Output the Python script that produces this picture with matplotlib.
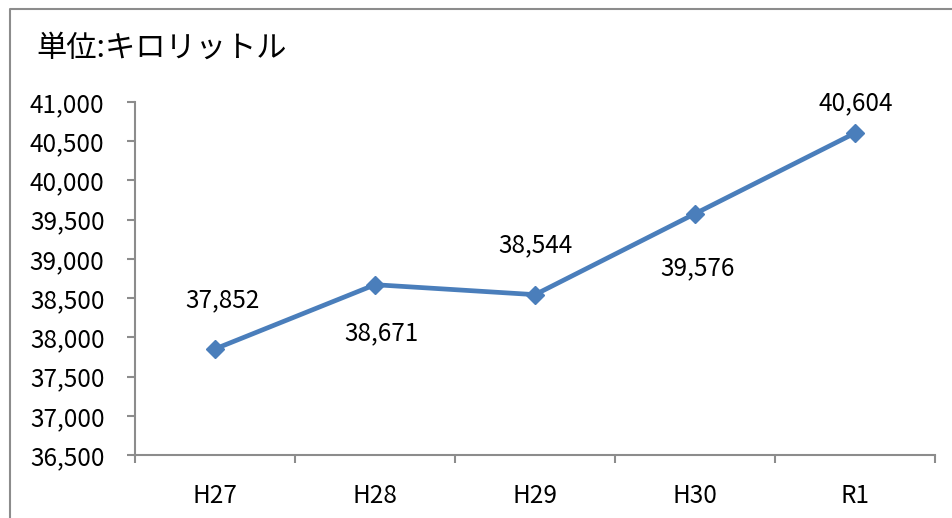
import matplotlib
matplotlib.use("Agg")
import matplotlib.pyplot as plt
from matplotlib.lines import Line2D
from matplotlib.ticker import FuncFormatter, FixedLocator

plt.rcParams['font.family'] = ['Noto Sans CJK JP', 'DejaVu Sans']

categories = ["H27", "H28", "H29", "H30", "R1"]
values = [37852, 38671, 38544, 39576, 40604]
title = "単位:キロリットル"

# label offsets (pixels) relative to points
label_offsets = [(8, 49), (6, -49), (0, 49), (2, -55), (1, 30)]

W, H = 952, 518
fig = plt.figure(figsize=(W / 100, H / 100), dpi=100)
ax = fig.add_axes([135 / W, 1 - 455 / H, 800 / W, (455 - 102) / H])

x = list(range(len(categories)))
ax.plot(x, values, color="#4A7EBB", lw=3.4, marker="D", markersize=9,
        markerfacecolor="#4A7EBB", markeredgecolor="#4A7EBB", solid_capstyle="round")

for xi, v, (dx, dy) in zip(x, values, label_offsets):
    ax.annotate(f"{v:,}", (xi, v), xytext=(dx * 0.72, dy * 0.72), textcoords="offset points",
                ha="center", va="center", fontsize=17.5, color="#000000")

ax.set_xlim(-0.5, len(categories) - 0.5)
ax.set_ylim(36500, 41000)
ax.set_yticks(range(36500, 41001, 500))
ax.yaxis.set_major_formatter(FuncFormatter(lambda v, p: f"{int(v):,}"))
ax.set_xticks(x)
ax.set_xticklabels(categories)
ax.xaxis.set_minor_locator(FixedLocator([i - 0.5 for i in range(len(categories) + 1)]))

for s in ["top", "right"]:
    ax.spines[s].set_visible(False)
for s in ["left", "bottom"]:
    ax.spines[s].set_color("#8c8c8c")
    ax.spines[s].set_linewidth(1.5)

ax.tick_params(axis="y", direction="out", length=6, width=1.5, color="#8c8c8c",
               labelsize=17.5, pad=16)
ax.tick_params(axis="x", which="major", length=0, labelsize=17.5, pad=20)
ax.tick_params(axis="x", which="minor", direction="out", length=6, width=1.5, color="#8c8c8c")

fig.text(36 / W, 1 - 48 / H, title, fontsize=21.8, ha="left", va="center")

# outer frame
fig.add_artist(Line2D([9.5 / W, 9.5 / W, 1.0], [0.0, 1 - 9 / H, 1 - 9 / H],
                      transform=fig.transFigure, color="#8c8c8c", lw=1.5))

fig.savefig("out.png", dpi=100)
